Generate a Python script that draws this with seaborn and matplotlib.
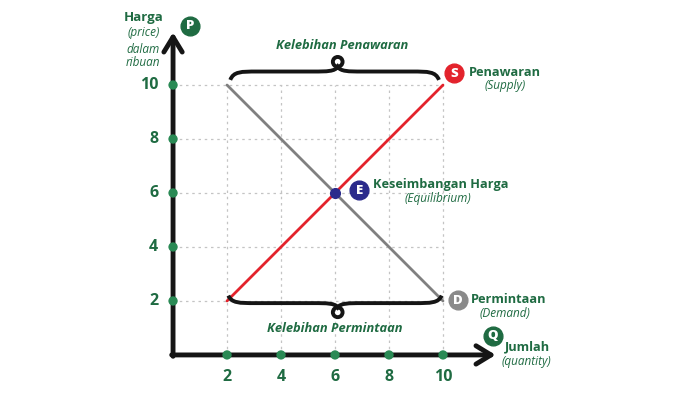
import numpy as np
import pandas as pd
import seaborn as sns
import matplotlib.pyplot as plt
from matplotlib.path import Path
from matplotlib.patches import PathPatch, Circle

sns.set_theme(style="white")
plt.rcParams['font.family'] = ['Open Sans', 'DejaVu Sans']

# data
jumlah = [2, 4, 6, 8, 10]
harga = [2, 4, 6, 8, 10]
penawaran = [2, 10]          # supply: harga at jumlah 2 and 10
permintaan = [10, 2]         # demand: harga at jumlah 2 and 10
eq_q, eq_p = 6, 6

GREEN = '#1f6b42'
DOT = '#2a8a55'
RED = '#e3232c'
GREY = '#808080'
NAVY = '#2b2b8c'

fig = plt.figure(figsize=(7, 3.93), dpi=100)
ax = fig.add_axes([0, 0, 1, 1])
ax.set_xlim(-6.41, 19.52)
ax.set_ylim(-1.41, 13.15)
ax.axis('off')

# dotted guide grid
for v in harga:
    ax.plot([0, 10], [v, v], ls=(0, (2, 3)), color='#c4c4c4', lw=0.9, zorder=1)
for v in jumlah:
    ax.plot([v, v], [0, 10], ls=(0, (2, 3)), color='#c4c4c4', lw=0.9, zorder=1)

# supply and demand lines
df = pd.DataFrame({'q': [2, 10], 'S': penawaran, 'D': permintaan})
sns.lineplot(data=df, x='q', y='S', color=RED, lw=2, ax=ax, zorder=3)
sns.lineplot(data=df, x='q', y='D', color=GREY, lw=2, ax=ax, zorder=2)
ax.plot(eq_q, eq_p, 'o', color=NAVY, ms=7, zorder=4)

# axes with arrows
arrow = dict(arrowstyle='->,head_length=0.9,head_width=0.55', lw=3.5, color='#151515',
             shrinkA=0, shrinkB=0)
ax.annotate('', xy=(0, 11.95), xytext=(0, -0.05), arrowprops=arrow, zorder=5)
ax.annotate('', xy=(11.95, 0), xytext=(-0.05, 0), arrowprops=arrow, zorder=5)

# tick dots
sns.scatterplot(x=[0] * len(harga), y=harga, color=DOT, s=45, edgecolor='none', ax=ax, zorder=6)
sns.scatterplot(x=jumlah, y=[0] * len(jumlah), color=DOT, s=45, edgecolor='none', ax=ax, zorder=6)
for v in harga:
    ax.text(-0.55, v, str(v), ha='right', va='center', fontsize=11.5, fontweight='bold', color=GREEN)
for v in jumlah:
    ax.text(v, -0.8, str(v), ha='center', va='center', fontsize=11.5, fontweight='bold', color=GREEN)


def brace(x0, x1, xm, y_end, y_flat, y_join, r, up):
    s = 1 if up else -1
    verts = [(x0, y_end), (x0 + 0.12, y_flat), (x0 + 0.4, y_flat), (x0 + 1.0, y_flat),
             (xm - 0.9, y_flat),
             (xm - 0.4, y_flat), (xm - 0.1, y_flat), (xm, y_join),
             (xm + 0.1, y_flat), (xm + 0.4, y_flat), (xm + 0.9, y_flat),
             (x1 - 1.0, y_flat),
             (x1 - 0.4, y_flat), (x1 - 0.12, y_flat), (x1, y_end)]
    codes = [Path.MOVETO] + [Path.CURVE4] * 3 + [Path.LINETO] + [Path.CURVE4] * 6 + \
            [Path.LINETO] + [Path.CURVE4] * 3
    ax.add_patch(PathPatch(Path(verts, codes), fc='none', ec='#151515', lw=2.8, zorder=5))
    ax.add_patch(Circle((xm, y_join + s * r), r, fc='none', ec='#151515', lw=2.8, zorder=5))


brace(2.12, 9.85, 6.1, 10.19, 10.5, 10.68, 0.18, True)
brace(2.05, 9.95, 6.1, 2.2, 1.92, 1.76, 0.18, False)


def badge(x, y, letter, color):
    ax.plot(x, y, 'o', ms=13.5, color=color, zorder=6)
    ax.text(x, y - 0.03, letter, ha='center', va='center', color='white',
            fontsize=9.5, fontweight='heavy', zorder=7)


badge(0.63, 12.2, 'P', '#1f6b42')
badge(10.42, 10.44, 'S', RED)
badge(6.9, 6.11, 'E', NAVY)
badge(10.55, 2.02, 'D', '#8a8a8a')
badge(11.85, 0.72, 'Q', '#1f6b42')

# labels
ax.text(-1.1, 12.52, 'Harga', ha='center', va='center', fontsize=9.5, fontweight='bold', color=GREEN)
ax.text(-1.1, 11.93, '(price)', ha='center', va='center', fontsize=8.5, style='italic', color=GREEN)
ax.text(-1.1, 11.3, 'dalam', ha='center', va='center', fontsize=8.5, style='italic', color=GREEN)
ax.text(-1.1, 10.85, 'ribuan', ha='center', va='center', fontsize=8.5, style='italic', color=GREEN)

ax.text(6.26, 11.48, 'Kelebihan Penawaran', ha='center', va='center', fontsize=9.3,
        fontweight='bold', style='italic', color=GREEN)
ax.text(6.0, 0.98, 'Kelebihan Permintaan', ha='center', va='center', fontsize=9.3,
        fontweight='bold', style='italic', color=GREEN)

ax.text(10.95, 10.46, 'Penawaran', ha='left', va='center', fontsize=9.2, fontweight='bold', color=GREEN)
ax.text(12.3, 10.0, '(Supply)', ha='center', va='center', fontsize=8.5, style='italic', color=GREEN)
ax.text(7.4, 6.3, 'Keseimbangan Harga', ha='left', va='center', fontsize=9.2, fontweight='bold', color=GREEN)
ax.text(9.8, 5.81, '(Equilibrium)', ha='center', va='center', fontsize=8.5, style='italic', color=GREEN)
ax.text(11.05, 2.04, 'Permintaan', ha='left', va='center', fontsize=9.2, fontweight='bold', color=GREEN)
ax.text(12.3, 1.52, '(Demand)', ha='center', va='center', fontsize=8.5, style='italic', color=GREEN)
ax.text(12.3, 0.3, 'Jumlah', ha='left', va='center', fontsize=9.2, fontweight='bold', color=GREEN)
ax.text(13.1, -0.26, '(quantity)', ha='center', va='center', fontsize=8.5, style='italic', color=GREEN)

fig.savefig('out.png', dpi=100, facecolor='white')
